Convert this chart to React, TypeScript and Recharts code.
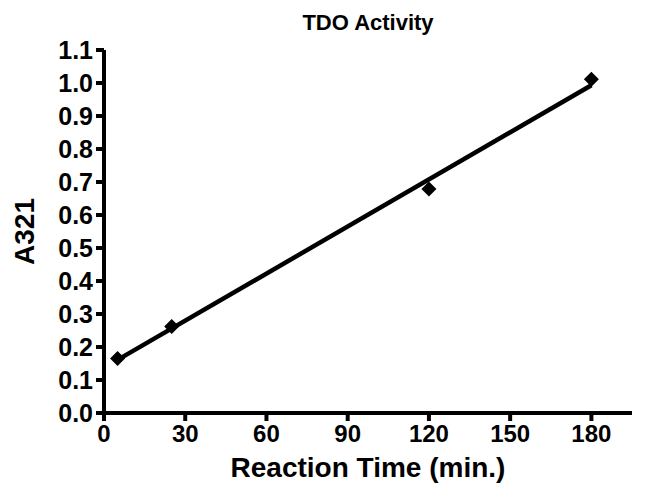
import React from 'react';
import { ScatterChart, Scatter, XAxis, YAxis } from 'recharts';

// measured points (Reaction time in min, A321)
const times = [5, 25, 120, 180];
const absorbance = [0.165, 0.262, 0.679, 1.011];

// fitted line end points
const fitTimes = [5, 180];
const fitValues = [0.161, 0.993];

const xTicks = [0, 30, 60, 90, 120, 150, 180];
const yTicks = [0, 0.1, 0.2, 0.3, 0.4, 0.5, 0.6, 0.7, 0.8, 0.9, 1.0, 1.1];

const pointData = times.map((t, i) => ({ x: t, y: absorbance[i] }));
const fitData = fitTimes.map((t, i) => ({ x: t, y: fitValues[i] }));

const FONT = 'Arial, "Liberation Sans", sans-serif';

const Diamond = (props: any) => {
    const { cx, cy } = props;
    const r = 7.5;
    return (
        <polygon
            points={`${cx},${cy - r} ${cx + r},${cy} ${cx},${cy + r} ${cx - r},${cy}`}
            fill="#000"
        />
    );
};

const XTick = ({ x, y, payload }: any) => (
    <text x={x} y={y} dy="0.72em" textAnchor="middle" fontFamily={FONT} fontWeight="bold" fontSize={24} fill="#000">
        {payload.value}
    </text>
);

const YTick = ({ x, y, payload }: any) => (
    <text x={x} y={y} dy="0.36em" textAnchor="end" fontFamily={FONT} fontWeight="bold" fontSize={25} fill="#000">
        {Number(payload.value).toFixed(1)}
    </text>
);

const YLabel = (props: any) => {
    const { x, y, height } = props.viewBox;
    const cx = x + 24;
    const cy = y + height / 2;
    return (
        <text
            x={cx}
            y={cy}
            transform={`rotate(-90, ${cx}, ${cy})`}
            textAnchor="middle"
            dominantBaseline="central"
            fontFamily={FONT}
            fontWeight="bold"
            fontSize={28}
            fill="#000"
        >
            A321
        </text>
    );
};

const XLabel = (props: any) => {
    const { x, y, width } = props.viewBox;
    return (
        <text
            x={x + width / 2}
            y={y + 64}
            textAnchor="middle"
            fontFamily={FONT}
            fontWeight="bold"
            fontSize={28}
            fill="#000"
        >
            Reaction Time (min.)
        </text>
    );
};

const axisStroke = { stroke: '#000', strokeWidth: 4 };

export default function App() {
    return (
        <div style={{ position: 'relative', width: 647, height: 499, background: '#fff' }}>
            <style>{`body { margin: 0; }`}</style>
            <div
                style={{
                    position: 'absolute',
                    left: 104,
                    width: 528,
                    top: 10,
                    textAlign: 'center',
                    fontFamily: FONT,
                    fontWeight: 'bold',
                    fontSize: 22,
                    color: '#000',
                }}
            >
                TDO Activity
            </div>
            <ScatterChart width={647} height={499} margin={{ top: 50, right: 15, bottom: 0, left: 0 }}>
                <XAxis
                    type="number"
                    dataKey="x"
                    domain={[0, 195]}
                    ticks={xTicks}
                    allowDataOverflow
                    height={86}
                    tickSize={8}
                    tickMargin={4}
                    axisLine={axisStroke}
                    tickLine={axisStroke}
                    tick={<XTick />}
                    label={<XLabel />}
                />
                <YAxis
                    type="number"
                    dataKey="y"
                    domain={[0, 1.1]}
                    ticks={yTicks}
                    allowDataOverflow
                    width={104}
                    tickSize={8}
                    tickMargin={3}
                    axisLine={axisStroke}
                    tickLine={axisStroke}
                    tick={<YTick />}
                    label={<YLabel />}
                />
                <Scatter
                    data={fitData}
                    line={{ stroke: '#000', strokeWidth: 4.5 }}
                    shape={() => <g />}
                    isAnimationActive={false}
                />
                <Scatter data={pointData} shape={<Diamond />} isAnimationActive={false} />
            </ScatterChart>
        </div>
    );
}
